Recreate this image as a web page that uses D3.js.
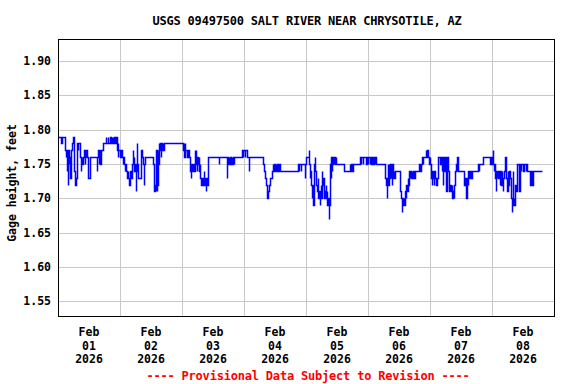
<!DOCTYPE html>
<html>
<head>
<meta charset="utf-8">
<script src="https://cdn.jsdelivr.net/npm/d3@7"></script>
<style>
body { margin: 0; background: #fff; }
text { font-family: "DejaVu Sans Mono", monospace; font-weight: bold; }
</style>
</head>
<body>
<div id="chart"></div>
<script>
// gage height readings, [hour of day, feet], one list per day (change points)
var feb01 = [[0,1.79],[1.0,1.78],[1.4,1.79],[2.6,1.77],[3.0,1.76],[3.2,1.77],[3.5,1.74],[3.6,1.76],[3.75,1.75],[3.9,1.72],[4.0,1.77],[4.1,1.75],[4.3,1.76],[4.5,1.74],[4.8,1.73],[4.9,1.75],[5.2,1.77],[5.6,1.78],[5.8,1.79],[6.1,1.75],[6.2,1.77],[6.3,1.74],[6.5,1.72],[6.6,1.73],[6.7,1.72],[7.0,1.73],[7.4,1.78],[7.6,1.77],[7.75,1.78],[8.4,1.77],[8.5,1.76],[8.8,1.74],[8.9,1.75],[9.2,1.76],[9.4,1.75],[9.7,1.76],[10.2,1.77],[10.5,1.75],[10.6,1.76],[10.7,1.77],[11.4,1.76],[11.6,1.73],[12.5,1.76],[15.1,1.74],[15.25,1.76],[15.6,1.77],[15.9,1.75],[16.0,1.77],[16.4,1.75],[16.5,1.77],[17.6,1.78],[18.5,1.79],[18.6,1.78],[19.4,1.79],[19.5,1.78],[20.0,1.79],[20.4,1.78],[20.8,1.79],[20.9,1.78],[21.3,1.79],[21.4,1.78],[21.8,1.79],[21.9,1.78],[22.5,1.79],[22.7,1.78],[23.0,1.77],[23.1,1.78],[23.2,1.76],[23.4,1.77]];
var feb02 = [[0,1.76],[0.3,1.77],[0.8,1.76],[1.0,1.75],[1.3,1.76],[1.6,1.75],[1.9,1.74],[2.1,1.75],[2.5,1.74],[2.7,1.73],[3.0,1.74],[3.2,1.73],[3.6,1.72],[3.75,1.73],[4.0,1.74],[4.3,1.73],[4.5,1.75],[4.9,1.77],[5.2,1.75],[5.3,1.76],[5.6,1.74],[5.8,1.75],[6.1,1.74],[6.2,1.71],[6.3,1.74],[6.6,1.78],[6.7,1.75],[7.0,1.74],[7.1,1.73],[8.0,1.74],[8.3,1.77],[8.6,1.76],[8.9,1.75],[9.3,1.72],[9.4,1.75],[9.8,1.76],[12.6,1.75],[13.0,1.72],[13.3,1.71],[13.7,1.72],[13.8,1.71],[14.1,1.77],[14.2,1.71],[14.3,1.76],[14.5,1.72],[14.6,1.77],[14.8,1.75],[15.0,1.78],[15.2,1.77],[15.5,1.78],[15.7,1.76],[15.9,1.78],[16.3,1.77],[16.5,1.78],[16.8,1.77],[17.2,1.78]];
var feb03 = [[0.4,1.77],[0.6,1.78],[0.9,1.76],[1.0,1.78],[1.3,1.77],[1.9,1.76],[2.3,1.77],[2.6,1.76],[3.0,1.75],[3.2,1.74],[3.4,1.73],[3.5,1.75],[3.9,1.74],[4.3,1.75],[4.5,1.74],[4.9,1.77],[5.2,1.76],[5.3,1.77],[5.5,1.75],[5.8,1.74],[5.9,1.76],[6.2,1.75],[6.5,1.76],[6.7,1.74],[7.0,1.75],[7.1,1.73],[7.4,1.72],[7.7,1.73],[8.0,1.72],[8.4,1.74],[8.5,1.73],[8.8,1.72],[9.2,1.71],[9.3,1.73],[9.7,1.72],[10.0,1.75],[10.2,1.76],[14.3,1.75],[14.45,1.76],[17.3,1.73],[17.4,1.76],[17.8,1.75],[18.1,1.76],[18.3,1.75],[18.6,1.76],[18.8,1.75],[19.2,1.76],[19.5,1.75],[19.7,1.76],[20.0,1.75],[20.3,1.76],[23.4,1.77],[23.6,1.76],[23.8,1.77]];
var feb04 = [[0.3,1.76],[0.5,1.77],[1.0,1.76],[1.9,1.74],[2.05,1.76],[7.5,1.75],[7.9,1.74],[8.3,1.73],[8.6,1.72],[8.9,1.70],[9.4,1.71],[9.8,1.72],[10.2,1.73],[10.7,1.74],[11.1,1.75],[11.3,1.74],[11.6,1.75],[11.9,1.74],[12.2,1.75],[12.5,1.74],[12.9,1.75],[13.1,1.74],[13.5,1.75],[13.8,1.74],[21.0,1.75],[21.3,1.74],[21.4,1.75],[22.05,1.74],[22.2,1.75],[23.5,1.73],[23.6,1.75],[23.9,1.76]];
var feb05 = [[0,1.76],[1.0,1.77],[1.2,1.75],[1.4,1.73],[1.7,1.74],[1.9,1.72],[2.2,1.70],[2.3,1.72],[2.6,1.71],[2.8,1.69],[3.0,1.71],[3.2,1.75],[3.3,1.76],[3.5,1.74],[3.7,1.73],[4.0,1.72],[4.2,1.71],[4.5,1.73],[4.8,1.70],[5.0,1.71],[5.3,1.69],[5.4,1.71],[5.7,1.72],[5.9,1.70],[6.2,1.74],[6.3,1.72],[6.6,1.73],[6.8,1.71],[7.1,1.70],[7.3,1.71],[7.6,1.72],[7.9,1.70],[8.1,1.71],[8.2,1.69],[8.5,1.70],[8.8,1.68],[8.9,1.67],[9.0,1.69],[9.3,1.73],[9.4,1.75],[9.5,1.73],[9.7,1.76],[9.9,1.74],[10.2,1.75],[10.4,1.76],[10.7,1.75],[10.8,1.76],[11.3,1.75],[11.5,1.76],[11.7,1.75],[14.6,1.74],[16.9,1.75],[17.2,1.74],[17.5,1.75],[17.8,1.74],[18.1,1.75],[20.8,1.76],[21.1,1.75],[21.4,1.76],[21.9,1.75],[22.2,1.76],[23.3,1.75],[23.5,1.76]];
var feb06 = [[0,1.75],[0.1,1.76],[0.6,1.75],[0.8,1.76],[1.3,1.75],[1.4,1.76],[1.9,1.75],[2.2,1.76],[2.6,1.75],[2.7,1.76],[3.1,1.75],[6.4,1.74],[6.7,1.73],[7.1,1.72],[7.3,1.70],[7.5,1.73],[7.6,1.75],[7.7,1.72],[8.0,1.75],[8.1,1.73],[8.4,1.74],[8.6,1.75],[8.8,1.73],[9.0,1.74],[9.3,1.72],[9.4,1.75],[9.7,1.73],[9.9,1.74],[10.2,1.73],[10.4,1.74],[12.5,1.71],[12.8,1.70],[13.0,1.69],[13.2,1.68],[13.3,1.70],[13.5,1.69],[13.8,1.70],[14.1,1.69],[14.3,1.71],[14.6,1.70],[14.8,1.72],[15.1,1.71],[15.3,1.73],[15.6,1.72],[15.9,1.74],[16.1,1.73],[16.4,1.74],[16.6,1.73],[16.9,1.74],[17.1,1.73],[17.4,1.74],[17.7,1.73],[18.0,1.74],[19.9,1.75],[20.1,1.74],[20.4,1.75],[21.0,1.76],[21.3,1.75],[21.4,1.76],[22.3,1.77],[22.6,1.76],[22.8,1.77],[23.3,1.76],[23.6,1.75],[23.9,1.76]];
var feb07 = [[0,1.75],[0.2,1.74],[0.5,1.73],[0.8,1.72],[0.9,1.74],[1.1,1.73],[1.4,1.72],[1.7,1.74],[1.9,1.73],[2.2,1.72],[2.7,1.73],[3.0,1.76],[4.0,1.75],[4.1,1.76],[4.5,1.74],[4.6,1.76],[5.0,1.72],[5.1,1.76],[5.5,1.74],[5.7,1.76],[6.0,1.73],[6.3,1.71],[6.6,1.72],[6.7,1.76],[7.0,1.74],[7.2,1.72],[7.5,1.71],[7.7,1.72],[8.1,1.71],[8.4,1.72],[8.6,1.70],[8.9,1.71],[9.1,1.70],[9.4,1.72],[9.7,1.74],[10.0,1.75],[10.3,1.74],[10.6,1.76],[10.7,1.75],[11.0,1.74],[13.0,1.73],[13.3,1.72],[13.5,1.73],[13.8,1.71],[14.0,1.70],[14.2,1.72],[14.4,1.73],[14.7,1.72],[14.9,1.74],[15.2,1.73],[15.5,1.74],[16.0,1.73],[16.2,1.74],[18.5,1.75],[18.8,1.74],[18.9,1.75],[20.6,1.76],[23.4,1.75],[23.7,1.76]];
var feb08 = [[0,1.75],[0.2,1.77],[0.35,1.75],[0.6,1.74],[0.9,1.75],[1.1,1.73],[1.4,1.71],[1.5,1.74],[1.8,1.73],[2.0,1.74],[2.4,1.73],[2.7,1.74],[3.1,1.72],[3.2,1.74],[3.6,1.72],[3.7,1.74],[3.9,1.73],[4.1,1.71],[4.2,1.73],[4.6,1.74],[5.0,1.75],[5.2,1.76],[5.4,1.74],[5.6,1.73],[5.9,1.71],[6.0,1.74],[6.3,1.72],[6.5,1.74],[6.8,1.73],[7.2,1.72],[7.4,1.70],[7.6,1.69],[7.7,1.68],[7.8,1.70],[8.1,1.74],[8.2,1.69],[8.5,1.70],[8.7,1.69],[9.0,1.72],[9.2,1.71],[9.5,1.74],[9.8,1.75],[10.3,1.74],[10.5,1.71],[10.7,1.73],[10.9,1.75],[11.2,1.74],[11.4,1.75],[12.1,1.74],[12.2,1.75],[13.0,1.74],[13.2,1.75],[13.6,1.74],[14.7,1.73],[14.9,1.72],[15.2,1.74],[15.4,1.72],[15.7,1.73],[16.0,1.74],[19.4,1.74]];

var days = [feb01, feb02, feb03, feb04, feb05, feb06, feb07, feb08];
var dayLabels = ["01", "02", "03", "04", "05", "06", "07", "08"];
var yTicks = [1.55, 1.60, 1.65, 1.70, 1.75, 1.80, 1.85, 1.90];

var width = 576, height = 384;
var margin = {top: 39, right: 22, bottom: 68, left: 58};
var plotW = width - margin.left - margin.right;
var plotH = height - margin.top - margin.bottom;

var series = [];
days.forEach(function (day, i) {
    day.forEach(function (p) {
        series.push({
            time: new Date(Date.UTC(2026, 1, i + 1) + p[0] * 3600000),
            value: p[1]
        });
    });
});

var x = d3.scaleUtc()
    .domain([new Date(Date.UTC(2026, 1, 1)), new Date(Date.UTC(2026, 1, 9))])
    .range([margin.left, margin.left + plotW]);

var y = d3.scaleLinear()
    .domain([1.5284, 1.9324])
    .range([margin.top + plotH, margin.top]);

var svg = d3.select("#chart")
    .append("svg")
    .attr("width", width)
    .attr("height", height);

svg.append("rect")
    .attr("width", width)
    .attr("height", height)
    .attr("fill", "white");

// grid
var midnights = d3.utcDay.range(new Date(Date.UTC(2026, 1, 2)), new Date(Date.UTC(2026, 1, 9)));

svg.append("g")
    .selectAll("line")
    .data(midnights)
    .enter()
    .append("line")
    .attr("x1", function (d) { return Math.round(x(d)) + 0.5; })
    .attr("x2", function (d) { return Math.round(x(d)) + 0.5; })
    .attr("y1", margin.top)
    .attr("y2", margin.top + plotH)
    .attr("stroke", "#c8c8c8")
    .attr("shape-rendering", "crispEdges");

svg.append("g")
    .selectAll("line")
    .data(yTicks)
    .enter()
    .append("line")
    .attr("x1", margin.left)
    .attr("x2", margin.left + plotW)
    .attr("y1", function (d) { return Math.round(y(d)) + 0.5; })
    .attr("y2", function (d) { return Math.round(y(d)) + 0.5; })
    .attr("stroke", "#c8c8c8")
    .attr("shape-rendering", "crispEdges");

// data line, snapped to pixel centres
var line = d3.line()
    .x(function (d) { return Math.round(x(d.time)) + 0.5; })
    .y(function (d) { return Math.round(y(d.value)) + 0.5; })
    .curve(d3.curveStepAfter);

svg.append("path")
    .datum(series)
    .attr("d", line)
    .attr("fill", "none")
    .attr("stroke", "#0000ff")
    .attr("stroke-width", 1.5);

svg.append("rect")
    .attr("x", margin.left + 0.5)
    .attr("y", margin.top + 0.5)
    .attr("width", plotW)
    .attr("height", plotH)
    .attr("fill", "none")
    .attr("stroke", "black")
    .attr("shape-rendering", "crispEdges");

// y tick labels
svg.append("g")
    .selectAll("text")
    .data(yTicks)
    .enter()
    .append("text")
    .attr("x", 51)
    .attr("y", function (d) { return y(d) + 4; })
    .attr("text-anchor", "end")
    .attr("font-size", "11.5px")
    .text(function (d) { return d.toFixed(2); });

// x tick labels, three lines at noon
var xl = svg.append("g")
    .selectAll("text")
    .data(dayLabels)
    .enter()
    .append("text")
    .attr("text-anchor", "middle")
    .attr("font-size", "11.5px");

xl.each(function (d, i) {
    var cx = x(new Date(Date.UTC(2026, 1, i + 1, 12)));
    var t = d3.select(this);
    t.append("tspan").attr("x", cx).attr("y", 336).text("Feb");
    t.append("tspan").attr("x", cx).attr("y", 349.5).text(d);
    t.append("tspan").attr("x", cx).attr("y", 362.5).text("2026");
});

svg.append("text")
    .attr("transform", "translate(16,183) rotate(-90)")
    .attr("text-anchor", "middle")
    .attr("font-size", "11.5px")
    .text("Gage height, feet");

svg.append("text")
    .attr("x", 307)
    .attr("y", 24.5)
    .attr("text-anchor", "middle")
    .attr("font-size", "12px")
    .attr("letter-spacing", "-0.2px")
    .text("USGS 09497500 SALT RIVER NEAR CHRYSOTILE, AZ");

svg.append("text")
    .attr("x", 308)
    .attr("y", 380)
    .attr("text-anchor", "middle")
    .attr("font-size", "12px")
    .attr("letter-spacing", "-0.2px")
    .attr("fill", "#ff0000")
    .text("---- Provisional Data Subject to Revision ----");
</script>
</body>
</html>
